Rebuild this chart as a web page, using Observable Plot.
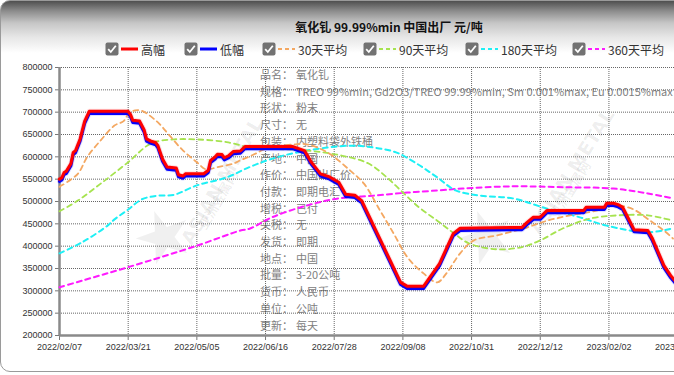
<!DOCTYPE html>
<html>
<head>
<meta charset="utf-8">
<script src="https://cdn.jsdelivr.net/npm/d3@7"></script>
<script src="https://cdn.jsdelivr.net/npm/@observablehq/plot@0.6"></script>
<style>
  html, body { margin:0; padding:0; background:#fff; overflow:hidden; width:674px; height:375px; }
  #frame { position:absolute; left:0; top:0; width:776px; height:370px; border:1px solid #9a9a9a; border-radius:10px;
    background: linear-gradient(to bottom, #4f4f4f 0px, #8c8c8c 10px, #c6c6c6 22px, #e6e6e6 36px, #ffffff 52px); }
  #title { position:absolute; left:0; top:18px; width:778px; text-align:center; font:bold 12px "Noto Sans CJK SC", sans-serif; color:#111; }
  .leg { position:absolute; top:41px; height:16px; display:flex; align-items:center; font:12px "Noto Sans CJK SC", sans-serif; color:#333; white-space:nowrap; }
  .leg svg { display:block; }
  #info { position:absolute; left:260px; top:66px; font:11px "Noto Sans CJK SC", sans-serif; color:#808080; line-height:16.7px; white-space:nowrap; z-index:1; }
  #info .row { display:flex; }
  #info .k { width:36px; }
  .wm { position:absolute; z-index:1; font:bold 19px "DejaVu Sans", sans-serif; color:rgba(0,0,0,0.07); white-space:nowrap; transform-origin:center; }
  .wmc { position:absolute; z-index:1; font:bold 13px "Noto Sans CJK SC", sans-serif; color:rgba(0,0,0,0.07); white-space:nowrap; }
  .star { position:absolute; z-index:1; font:70px "DejaVu Sans", sans-serif; color:rgba(0,0,0,0.06); }
  #chart { position:absolute; left:0; top:55px; width:720px; z-index:2; }
</style>
</head>
<body>
<div id="frame"></div>
<div id="title">氧化钆 99.99%min 中国出厂 元/吨</div>
<div id="legend"></div>
<div id="info"></div>
<div class="star" style="left:132px; top:195px; transform:rotate(-20deg);">★</div>
<div class="wm" style="left:150px; top:170px; transform:rotate(-60deg);">ASIAN METAL</div>
<div class="wmc" style="left:185px; top:190px; transform:rotate(-60deg);">亚洲金属网</div>
<div class="star" style="left:455px; top:195px; transform:rotate(-20deg);">★</div>
<div class="wm" style="left:500px; top:160px; transform:rotate(-58deg);">ASIAN METAL</div>
<div class="wmc" style="left:537px; top:180px; transform:rotate(-58deg);">亚洲金属网</div>
<div id="chart"></div>
<script>
// ---------- data ----------
const xTickIdx = [0, 30, 60, 90, 120, 150, 180, 210, 240, 270];
const xTickLabels = ["2022/02/07","2022/03/21","2022/05/05","2022/06/16","2022/07/28","2022/09/08","2022/10/31","2022/12/12","2023/02/02","2023/03/16"];
const yTicks = [200000,250000,300000,350000,400000,450000,500000,550000,600000,650000,700000,750000,800000];

// trading-day index and price (high / low)
const priceIdx = [0,1,2,3,5,6,7,9,11,13,30,31,32,35,37,38,40,42,43,45,47,51,52,54,55,63,65,66,68,69,71,72,74,76,79,81,102,107,110,114,118,122,125,129,132,149,152,159,166,172,175,202,204,207,210,213,229,230,238,239,242,244,246,251,257,259,264,267,269];
const highVals = [550000,553000,565000,568000,585000,610000,614000,640000,680000,702000,702000,695000,682000,680000,660000,640000,635000,632000,625000,595000,577000,575000,560000,557000,562000,562000,570000,592000,600000,606000,605000,598000,603000,612000,613000,623000,623000,614000,588000,562000,555000,543000,516000,514000,502000,319000,310000,310000,361000,428000,440000,442000,452000,465000,465000,480000,480000,487000,487000,496000,496000,493000,487000,437000,435000,417000,357000,334000,322000];
const lowVals  = [545000,548000,560000,563000,580000,605000,609000,635000,675000,697000,697000,690000,677000,675000,655000,635000,630000,627000,620000,590000,572000,570000,555000,552000,557000,557000,565000,587000,595000,601000,600000,593000,598000,607000,608000,618000,618000,609000,583000,557000,550000,538000,511000,509000,497000,314000,305000,305000,356000,423000,435000,437000,447000,460000,460000,475000,475000,482000,482000,491000,491000,488000,482000,432000,430000,412000,352000,329000,317000];

// moving averages (index, value)
const ma30Idx  = [0,8,12,18,24,28,30,33,36,43,48,54,60,64,69,76,79,86,89,97,103,108,117,127,133,140,146,152,159,165,169,175,181,191,203,213,223,235,241,250,258,264,268];
const ma30Vals = [533000,562000,599000,637000,670000,680000,695000,704000,703000,677000,648000,614000,588000,572000,577000,585000,592000,608000,616000,625000,628000,628000,610000,569000,540000,480000,428000,375000,339000,319000,339000,384000,413000,424000,440000,457000,469000,480000,491000,484000,457000,435000,417000];
const ma90Idx  = [0,8,18,30,40,50,60,73,83,88,108,123,135,143,149,157,165,172,179,191,202,210,220,232,244,257,268];
const ma90Vals = [478000,502000,540000,588000,630000,639000,639000,633000,621000,619000,614000,603000,585000,554000,525000,487000,457000,430000,406000,393000,398000,413000,440000,462000,469000,469000,457000];
const ma180Idx  = [0,10,21,24,30,36,43,50,60,73,83,93,108,127,137,147,156,165,173,184,198,213,227,239,257,268];
const ma180Vals = [384000,409000,446000,460000,482000,505000,513000,515000,536000,554000,577000,596000,614000,625000,621000,610000,585000,554000,525000,513000,507000,484000,465000,446000,431000,440000];
const ma360Idx  = [0,10,30,60,79,83,93,108,122,137,152,166,176,198,220,242,257,268];
const ma360Vals = [308000,323000,353000,401000,435000,439000,465000,491000,507000,513000,520000,525000,529000,534000,532000,529000,518000,507000];

const infoKeys = ["品名：","规格：","形状：","尺寸：","包装：","产地：","作价：","付款：","增税：","关税：","发货：","地点：","批量：","货币：","单位：","更新："];
const infoVals = ["氧化钆","TREO 99%min, Gd2O3/TREO 99.99%min, Sm 0.001%max, Eu 0.0015%max","粉末","无","内塑料袋外铁桶","中国","中国出厂价","即期电汇","已付","无","即期","中国","3-20公吨","人民币","公吨","每天"];

const legendNames = ["高幅","低幅","30天平均","90天平均","180天平均","360天平均"];
const seriesColors = ["#ff0000","#0000ff","#f4a862","#a6e34f","#1ef0f5","#ff1aff"];

// ---------- build ----------
const toRows = (idx, vals) => idx.map((d, i) => ({i: d, v: vals[i]}));
const high = toRows(priceIdx, highVals);
const low = toRows(priceIdx, lowVals);
const ma30 = toRows(ma30Idx, ma30Vals);
const ma90 = toRows(ma90Idx, ma90Vals);
const ma180 = toRows(ma180Idx, ma180Vals);
const ma360 = toRows(ma360Idx, ma360Vals);

// info block
const info = document.getElementById("info");
infoKeys.forEach((k, i) => {
  const r = document.createElement("div"); r.className = "row";
  r.innerHTML = `<span class="k">${k}</span><span>${infoVals[i]}</span>`;
  info.appendChild(r);
});

// legend
const legendX = [105, 184, 262, 363, 465, 572];
const leg = document.getElementById("legend");
legendNames.forEach((n, i) => {
  const solid = i < 2;
  const el = document.createElement("div"); el.className = "leg"; el.style.left = legendX[i] + "px";
  el.innerHTML =
    `<svg width="14" height="14"><rect x="0.5" y="0.5" width="13" height="13" rx="2" fill="#727272"/><path d="M3.2 7.2 L5.8 10 L10.8 3.8" stroke="#fff" stroke-width="1.8" fill="none"/></svg>` +
    `<svg width="20" height="14" style="margin-left:1px"><line x1="1" x2="18" y1="7" y2="7" stroke="${seriesColors[i]}" stroke-width="${solid ? 3 : 2}" ${solid ? "" : 'stroke-dasharray="4,3"'}/></svg>` +
    `<span style="margin-left:1px">${n}</span>`;
  leg.appendChild(el);
});

const dash = "5,4";
const chart = Plot.plot({
  width: 720,
  height: 300,
  marginLeft: 59,
  marginRight: 20,
  marginTop: 12,
  marginBottom: 20,
  style: {background: "transparent", maxWidth: "none", overflow: "visible", fontFamily: "'Liberation Sans', Arial, sans-serif", fontSize: "9px", color: "#333"},
  x: {type: "linear", domain: [0, 280], axis: null},
  y: {domain: [200000, 800000], axis: null},
  marks: [
    Plot.gridY(yTicks, {stroke: "#555", strokeOpacity: 0.9, strokeDasharray: "1,1"}),
    Plot.gridX(xTickIdx, {stroke: "#555", strokeOpacity: 0.9, strokeDasharray: "1,1"}),
    Plot.axisY(yTicks, {tickFormat: d => String(d), tickSize: 4, tickPadding: 3, fontSize: 9, stroke: "#777", label: null}),
    Plot.axisX(xTickIdx, {tickFormat: d => xTickLabels[xTickIdx.indexOf(d)], tickSize: 5, tickPadding: 3, fontSize: 9, stroke: "#777", label: null}),
    Plot.ruleX([0], {stroke: "#8a8a8a", strokeWidth: 2.5}),
    Plot.ruleY([200000], {stroke: "#8a8a8a", strokeWidth: 2.5}),
    Plot.line(ma360, {x: "i", y: "v", stroke: seriesColors[5], strokeWidth: 2, strokeDasharray: dash, curve: "catmull-rom"}),
    Plot.line(ma180, {x: "i", y: "v", stroke: seriesColors[4], strokeWidth: 2, strokeDasharray: dash, curve: "catmull-rom"}),
    Plot.line(ma90, {x: "i", y: "v", stroke: seriesColors[3], strokeWidth: 1.8, strokeDasharray: dash, curve: "catmull-rom"}),
    Plot.line(ma30, {x: "i", y: "v", stroke: seriesColors[2], strokeWidth: 1.8, strokeDasharray: dash, curve: "catmull-rom"}),
    Plot.line(low, {x: "i", y: "v", stroke: seriesColors[1], strokeWidth: 5, strokeOpacity: 0.12}),
    Plot.line(low, {x: "i", y: "v", stroke: seriesColors[1], strokeWidth: 3}),
    Plot.line(high, {x: "i", y: "v", stroke: seriesColors[0], strokeWidth: 5, strokeOpacity: 0.12}),
    Plot.line(high, {x: "i", y: "v", stroke: seriesColors[0], strokeWidth: 3})
  ]
});
document.getElementById("chart").appendChild(chart);
</script>
</body>
</html>
